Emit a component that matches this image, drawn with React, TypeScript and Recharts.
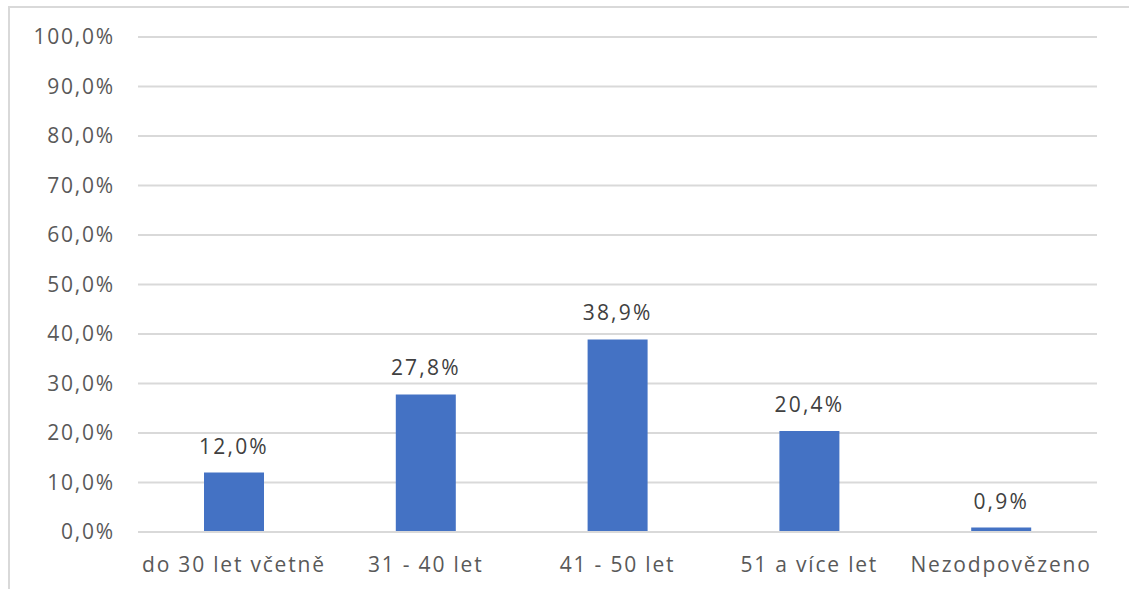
import React from "react";
import { BarChart, Bar, XAxis, YAxis, CartesianGrid, LabelList } from "recharts";

const categories = ["do 30 let včetně", "31 - 40 let", "41 - 50 let", "51 a více let", "Nezodpovězeno"];
const values = [12.0, 27.8, 38.9, 20.4, 0.9];
const yTicks = [0, 10, 20, 30, 40, 50, 60, 70, 80, 90, 100];

const data = categories.map((c, i) => ({ name: c, value: values[i] }));

const fmt = (v: number) => v.toFixed(1).replace(".", ",") + "%";

const FONT = "'Open Sans', sans-serif";

export default function App() {
  return (
    <div style={{ position: "absolute", left: 0, top: 0, width: 1129, height: 589, background: "#fff", overflow: "hidden" }}>
      <div
        style={{
          position: "absolute",
          left: 8,
          top: 6,
          width: 1140,
          height: 600,
          borderTop: "2px solid #d9d9d9",
          borderLeft: "2px solid #d9d9d9",
          boxSizing: "border-box",
        }}
      />
      <div style={{ position: "absolute", left: 0, top: 0 }}>
        <BarChart
          width={1129}
          height={589}
          data={data}
          margin={{ top: 37, right: 32, bottom: 0, left: 0 }}
        >
          <CartesianGrid vertical={false} stroke="#d9d9d9" strokeWidth={2} />
          <XAxis
            dataKey="name"
            axisLine={{ stroke: "#d9d9d9", strokeWidth: 2 }}
            tickLine={false}
            tickSize={0}
            tickMargin={25}
            interval={0}
            tick={{ fill: "#595959", fontSize: 21, fontFamily: FONT, letterSpacing: 1.8 }}
            height={57}
          />
          <YAxis
            domain={[0, 100]}
            ticks={yTicks}
            tickFormatter={fmt}
            axisLine={false}
            tickLine={false}
            tickSize={0}
            tickMargin={23}
            width={138}
            interval={0}
            tick={{ fill: "#595959", fontSize: 21, fontFamily: FONT, letterSpacing: 1.8 }}
          />
          <Bar dataKey="value" fill="#4472C4" barSize={60} isAnimationActive={false}>
            <LabelList
              dataKey="value"
              position="top"
              offset={19}
              formatter={(v: number) => fmt(v)}
              style={{ fill: "#404040", fontSize: 21, fontFamily: FONT, letterSpacing: 2.2 }}
            />
          </Bar>
        </BarChart>
      </div>
    </div>
  );
}
